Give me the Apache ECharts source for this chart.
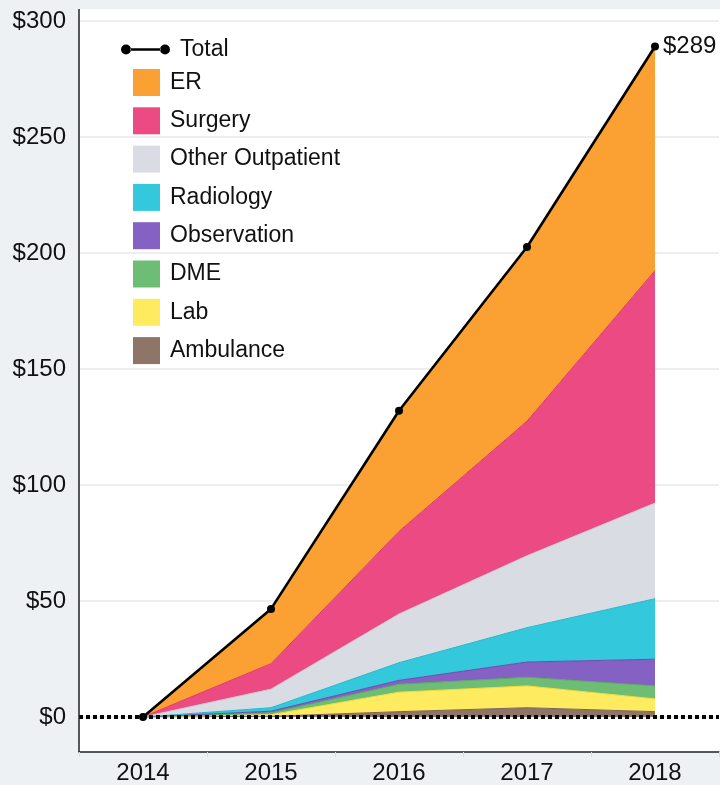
<!DOCTYPE html>
<html>
<head>
<meta charset="utf-8">
<script src="https://cdn.jsdelivr.net/npm/echarts@6/dist/echarts.min.js"></script>
<style>
  html, body { margin: 0; padding: 0; background: #edf1f4; }
  #chart { width: 720px; height: 785px; }
</style>
</head>
<body>
<div id="chart"></div>
<script>
// years on the x axis
const years = ['2014', '2015', '2016', '2017', '2018']

// stacked layers, bottom to top (values in $)
const ambulance = [0, 0.3, 2.3, 4.0, 2.3]
const lab = [0, 0.7, 8.4, 9.4, 5.5]
const dme = [0, 0.8, 3.4, 3.7, 5.6]
const observation = [0, 0.7, 1.7, 6.6, 11.5]
const radiology = [0, 1.5, 7.6, 14.8, 26.1]
const otherOutpatient = [0, 8.0, 21.0, 31.0, 41.2]
const surgery = [0, 11.0, 35.6, 58.0, 100.2]
const er = [0, 23.6, 52.0, 75.1, 96.6]

const total = [0, 46.6, 132, 202.6, 289]

const yTicks = [0, 50, 100, 150, 200, 250, 300]

const FONT = 'Liberation Sans, Arial, sans-serif'

const layers = [
  { name: 'Ambulance', data: ambulance, color: '#8f7468', line: '#7d6358' },
  { name: 'Lab', data: lab, color: '#feeb60', line: '#f5dc3c' },
  { name: 'DME', data: dme, color: '#6dbe74', line: '#58ad5f' },
  { name: 'Observation', data: observation, color: '#8461c3', line: '#6c4bad' },
  { name: 'Radiology', data: radiology, color: '#33c8db', line: '#1fb7cc' },
  { name: 'Other Outpatient', data: otherOutpatient, color: '#d9dde3', line: '#c8cdd4' },
  { name: 'Surgery', data: surgery, color: '#ec4a82', line: '#e2336e' },
  { name: 'ER', data: er, color: '#fba133', line: '#f78a1e' }
]

const chart = echarts.init(document.getElementById('chart'), null, { renderer: 'canvas' })

const areaSeries = layers.map(l => ({
  name: l.name,
  type: 'line',
  stack: 'spend',
  data: l.data,
  symbol: 'none',
  z: 2,
  itemStyle: { color: l.color },
  lineStyle: { color: l.line, width: 1 },
  areaStyle: { color: l.color, opacity: 1 },
  emphasis: { disabled: true }
}))

const totalSeries = {
  name: 'Total',
  type: 'line',
  data: total.map((v, i) => i === total.length - 1 ? {
    value: v,
    label: {
      show: true,
      position: 'right',
      distance: 4,
      formatter: '$' + v,
      fontFamily: FONT,
      fontSize: 24,
      color: '#111'
    }
  } : v),
  symbol: 'circle',
  symbolSize: 8,
  z: 10,
  itemStyle: { color: '#000' },
  lineStyle: { color: '#000', width: 2.6 },
  emphasis: { disabled: true }
}

const option = {
  backgroundColor: '#edf1f4',
  animation: false,
  graphic: [
    {
      type: 'rect',
      silent: true,
      z: -10,
      shape: { x: 79, y: 9, width: 641, height: 743 },
      style: { fill: '#fff' }
    },
    {
      type: 'line',
      silent: true,
      z: 20,
      shape: { x1: 79, y1: 9, x2: 79, y2: 752 },
      style: { stroke: '#222', lineWidth: 1.5 }
    }
  ],
  grid: { left: 79, right: 1, top: 21, bottom: 68 },
  legend: [
    {
      data: [{ name: 'Total', icon: 'path://M0,5a5,5 0 1,0 10,0a5,5 0 1,0 -10,0z M39,5a5,5 0 1,0 10,0a5,5 0 1,0 -10,0z M9.5,3.8h30v2.4h-30z' }],
      left: 121,
      top: 38,
      padding: 0,
      itemWidth: 49,
      itemHeight: 10,
      itemGap: 10,
      selectedMode: false,
      textStyle: { fontFamily: FONT, fontSize: 23, color: '#111', padding: [0, 0, 0, 5] }
    },
    {
      data: layers.slice().reverse().map(l => l.name),
      orient: 'vertical',
      left: 133,
      top: 69,
      padding: 0,
      itemWidth: 27,
      itemHeight: 27,
      itemGap: 11.3,
      icon: 'rect',
      selectedMode: false,
      textStyle: { fontFamily: FONT, fontSize: 23, color: '#111', padding: [0, 0, 0, 5] }
    }
  ],
  xAxis: [
    {
      // dotted zero line drawn over the areas
      type: 'category',
      data: years,
      position: 'bottom',
      boundaryGap: true,
      z: 8,
      axisLine: { show: true, onZero: false, lineStyle: { color: '#000', type: [4, 3], width: 4, cap: 'butt' } },
      axisTick: { show: false },
      axisLabel: { show: false },
      splitLine: { show: false }
    },
    {
      type: 'category',
      data: years,
      position: 'bottom',
      boundaryGap: true,
      offset: 35,
      axisLine: { show: true, onZero: false, lineStyle: { color: '#222', width: 1.5 } },
      axisTick: { show: true, length: 5, lineStyle: { color: '#d8dde2' } },
      axisLabel: { fontFamily: FONT, fontSize: 24, color: '#111', margin: 9 },
      splitLine: { show: false }
    }
  ],
  yAxis: {
    type: 'value',
    min: 0,
    max: 300,
    interval: 50,
    axisLine: { show: false },
    axisTick: { show: false },
    axisLabel: {
      fontFamily: FONT,
      fontSize: 24,
      color: '#111',
      margin: 13,
      formatter: v => yTicks.includes(v) ? '$' + v : ''
    },
    splitLine: { show: true, lineStyle: { color: '#e6e9ed', width: 1.5 } }
  },
  series: [...areaSeries, totalSeries]
}

chart.setOption(option)
</script>
</body>
</html>
